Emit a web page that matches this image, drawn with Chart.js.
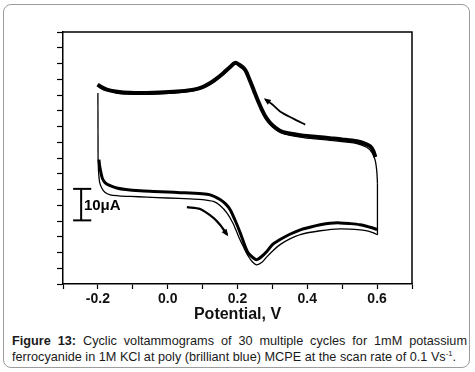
<!DOCTYPE html>
<html>
<head>
<meta charset="utf-8">
<script src="https://cdn.jsdelivr.net/npm/chart.js@4.4.1/dist/chart.umd.min.js"></script>
<style>
    body { margin: 0; background: #fff; }
    #wrap { position: relative; width: 475px; height: 372px; overflow: hidden; }
    #frame { position: absolute; left: 3px; top: 4px; width: 465px; height: 362px; border: 1.5px solid #9c9c9c; border-radius: 8px; }
    #cv { position: absolute; left: 0; top: 0; }
    #caption { position: absolute; left: 12px; top: 333px; width: 455px; font: 12.7px "Liberation Sans", Arial, sans-serif; line-height: 16px; text-align: justify; color: #1a1a1a; }
    #caption sup { font-size: 0.6em; line-height: 0; }
</style>
</head>
<body>
<div id="wrap">
    <div id="frame"></div>
    <canvas id="cv" width="475" height="325"></canvas>
    <div id="caption"><b>Figure 13:</b> Cyclic voltammograms of 30 multiple cycles for 1mM potassium ferrocyanide in 1M KCl at poly (brilliant blue) MCPE at the scan rate of 0.1 Vs<sup>-1</sup>.</div>
</div>
<script>
// potential (V) and current (uA, arbitrary zero)

// cycles 2-30, anodic sweep (thick band)
const upperV = [-0.201, -0.19, -0.174, -0.15, -0.127, -0.06, 0.017, 0.074, 0.10, 0.122, 0.14, 0.16, 0.178, 0.193, 0.205, 0.222, 0.234, 0.246, 0.258, 0.27, 0.282, 0.294, 0.31, 0.327, 0.36, 0.389, 0.43, 0.465, 0.50, 0.542, 0.565, 0.58, 0.589, 0.595];
const upperI = [63.3, 62.5, 61.7, 61.1, 60.8, 60.6, 61.0, 61.7, 62.5, 63.8, 65.2, 67.0, 68.8, 70.2, 69.6, 68.0, 65.0, 61.7, 58.3, 55.3, 52.8, 51.1, 49.5, 48.4, 47.6, 47.1, 46.7, 46.3, 45.9, 45.3, 44.6, 43.7, 42.3, 40.3];

// cycles 2-30, cathodic sweep
const lowerV = [0.60, 0.58, 0.551, 0.52, 0.494, 0.465, 0.437, 0.41, 0.38, 0.35, 0.322, 0.30, 0.284, 0.27, 0.255, 0.243, 0.231, 0.22, 0.208, 0.194, 0.179, 0.165, 0.15, 0.122, 0.09, 0.064, 0.036, 0.0, -0.04, -0.079, -0.12, -0.146, -0.165, -0.179, -0.187, -0.191, -0.195, -0.197];
const lowerI = [17.3, 18.0, 18.8, 19.2, 19.4, 19.3, 18.8, 18.1, 17.2, 15.8, 14.1, 12.5, 10.3, 8.8, 7.7, 8.5, 9.8, 12.5, 16.2, 20.0, 23.6, 25.5, 26.8, 28.3, 28.7, 28.9, 29.0, 29.2, 29.4, 29.6, 30.0, 30.5, 31.2, 32.1, 33.5, 35.2, 37.5, 39.5];

// first cycle, thin line: anodic part, then cathodic part
const firstUpV = [-0.15, -0.127, -0.06, 0.017, 0.074, 0.122, 0.16, 0.193, 0.222, 0.246, 0.27, 0.294, 0.327, 0.389, 0.465, 0.542, 0.57, 0.585, 0.594, 0.599, 0.601];
const firstUpI = [60.7, 60.4, 60.2, 60.6, 61.3, 63.4, 66.6, 69.8, 67.6, 61.3, 54.9, 50.7, 47.9, 46.5, 45.6, 44.6, 43.4, 41.8, 39.5, 36.0, 32.0];
const firstDnV = [0.601, 0.59, 0.575, 0.552, 0.494, 0.437, 0.38, 0.35, 0.322, 0.30, 0.284, 0.27, 0.255, 0.243, 0.231, 0.217, 0.203, 0.187, 0.17, 0.15, 0.131, 0.10, 0.064, 0.0, -0.06, -0.107, -0.14, -0.165, -0.18, -0.189, -0.195, -0.198, -0.1995];
const firstDnI = [15.6, 16.2, 16.8, 17.2, 17.5, 16.9, 15.7, 14.3, 12.5, 10.4, 8.6, 6.9, 6.1, 7.0, 8.8, 11.8, 15.1, 19.3, 22.5, 24.9, 26.2, 26.8, 27.0, 27.3, 27.6, 27.8, 28.0, 28.3, 29.1, 30.5, 32.3, 35.5, 40.0];
// straight switching edges of the first cycle
const edgeRightV = [0.601, 0.601];
const edgeRightI = [32.0, 15.6];
const edgeLeftV = [-0.1995, -0.2];
const edgeLeftI = [40.0, 60.6];

// scan direction arrows
const arrowAV = [0.28, 0.30, 0.322, 0.36, 0.394];
const arrowAI = [58.6, 57.0, 54.8, 52.5, 50.6];
const arrowBV = [0.055, 0.093, 0.131, 0.15, 0.17];
const arrowBI = [24.4, 23.8, 21.0, 18.8, 15.7];

// 10 uA scale bar
const barX = -0.248;
const barCapV = [-0.271, -0.219];
const barI = [30.2, 20.2];
const barLabel = "10\u03bcA";
const barLabelV = -0.240;
const barLabelI = 24.8;

const xLabelTicks = [-0.2, 0.0, 0.2, 0.4, 0.6];

const pts = (xs, ys) => xs.map((x, i) => ({ x: x, y: ys[i] }));

const lineSet = (data, width, order, extra) => Object.assign({
    data: data,
    borderColor: "#000",
    borderWidth: width,
    pointRadius: 0,
    tension: 0.3,
    fill: false,
    order: order,
}, extra || {});

// top and right edge of the plot box, plus the scale bar label
const boxPlugin = {
    id: "box",
    afterDraw(chart) {
        const { ctx, chartArea, scales } = chart;
        ctx.save();
        ctx.strokeStyle = "#000";
        ctx.lineWidth = 1.5;
        ctx.beginPath();
        ctx.moveTo(chartArea.left, chartArea.top);
        ctx.lineTo(chartArea.right, chartArea.top);
        ctx.lineTo(chartArea.right, chartArea.bottom);
        ctx.stroke();
        ctx.fillStyle = "#000";
        ctx.font = "bold 15px 'Liberation Sans', Arial, sans-serif";
        ctx.textBaseline = "middle";
        ctx.textAlign = "left";
        ctx.fillText(barLabel, scales.x.getPixelForValue(barLabelV), scales.y.getPixelForValue(barLabelI));
        ctx.restore();
    },
};

// small arrow heads on the scan direction lines
const arrowPlugin = {
    id: "arrows",
    afterDatasetsDraw(chart) {
        const ctx = chart.ctx;
        chart.data.datasets.forEach((ds, i) => {
            if (!ds.arrowHead) return;
            const els = chart.getDatasetMeta(i).data;
            const tip = ds.arrowHead === "start" ? els[0] : els[els.length - 1];
            const prev = ds.arrowHead === "start" ? els[1] : els[els.length - 2];
            const a = Math.atan2(tip.y - prev.y, tip.x - prev.x);
            const len = 7, half = 3;
            ctx.save();
            ctx.fillStyle = "#000";
            ctx.translate(tip.x, tip.y);
            ctx.rotate(a);
            ctx.beginPath();
            ctx.moveTo(2, 0);
            ctx.lineTo(2 - len, -half);
            ctx.lineTo(2 - len, half);
            ctx.closePath();
            ctx.fill();
            ctx.restore();
        });
    },
};

new Chart(document.getElementById("cv"), {
    type: "line",
    data: {
        datasets: [
            lineSet(pts(upperV, upperI), 4, 1),
            lineSet(pts(lowerV, lowerI), 3, 1),
            lineSet(pts(firstUpV, firstUpI), 1.3, 3),
            lineSet(pts(firstDnV, firstDnI), 1.3, 3),
            lineSet(pts(edgeRightV, edgeRightI), 1.3, 3, { tension: 0 }),
            lineSet(pts(edgeLeftV, edgeLeftI), 1.3, 3, { tension: 0 }),
            lineSet(pts(arrowAV, arrowAI), 1.8, 1, { arrowHead: "start" }),
            lineSet(pts(arrowBV, arrowBI), 2.2, 1, { arrowHead: "end" }),
            lineSet(pts([barX, barX], barI), 2, 1, { tension: 0 }),
            lineSet(pts(barCapV, [barI[0], barI[0]]), 2, 1, { tension: 0 }),
            lineSet(pts(barCapV, [barI[1], barI[1]]), 2, 1, { tension: 0 }),
        ],
    },
    options: {
        responsive: false,
        animation: false,
        devicePixelRatio: 1,
        layout: {
            padding: { top: 32, right: 63, bottom: 0, left: 0 },
        },
        scales: {
            x: {
                type: "linear",
                min: -0.3,
                max: 0.7,
                afterFit: (s) => { s.height = 41; },
                border: { display: true, color: "#000", width: 1.5 },
                grid: { drawOnChartArea: false, tickLength: 5, color: "#000", tickWidth: 1.2 },
                ticks: {
                    stepSize: 0.1,
                    autoSkip: false,
                    maxRotation: 0,
                    padding: 2,
                    color: "#111",
                    font: { family: "'Liberation Sans', Arial, sans-serif", size: 14, weight: "bold" },
                    callback: (v) => {
                        const hit = xLabelTicks.find((t) => Math.abs(t - v) < 1e-6);
                        return hit === undefined ? "" : hit.toFixed(1);
                    },
                },
                title: {
                    display: true,
                    text: "Potential, V",
                    color: "#111",
                    padding: { top: 0, bottom: 1 },
                    font: { family: "'Liberation Sans', Arial, sans-serif", size: 16, weight: "bold" },
                },
            },
            y: {
                type: "linear",
                min: 0,
                max: 80,
                afterFit: (s) => { s.width = 63; },
                border: { display: true, color: "#000", width: 1.5 },
                grid: { drawOnChartArea: false, tickLength: 6, color: "#000", tickWidth: 1.2 },
                ticks: { stepSize: 5, display: false },
            },
        },
        plugins: {
            legend: { display: false },
            tooltip: { enabled: false },
        },
    },
    plugins: [boxPlugin, arrowPlugin],
});
</script>
</body>
</html>
